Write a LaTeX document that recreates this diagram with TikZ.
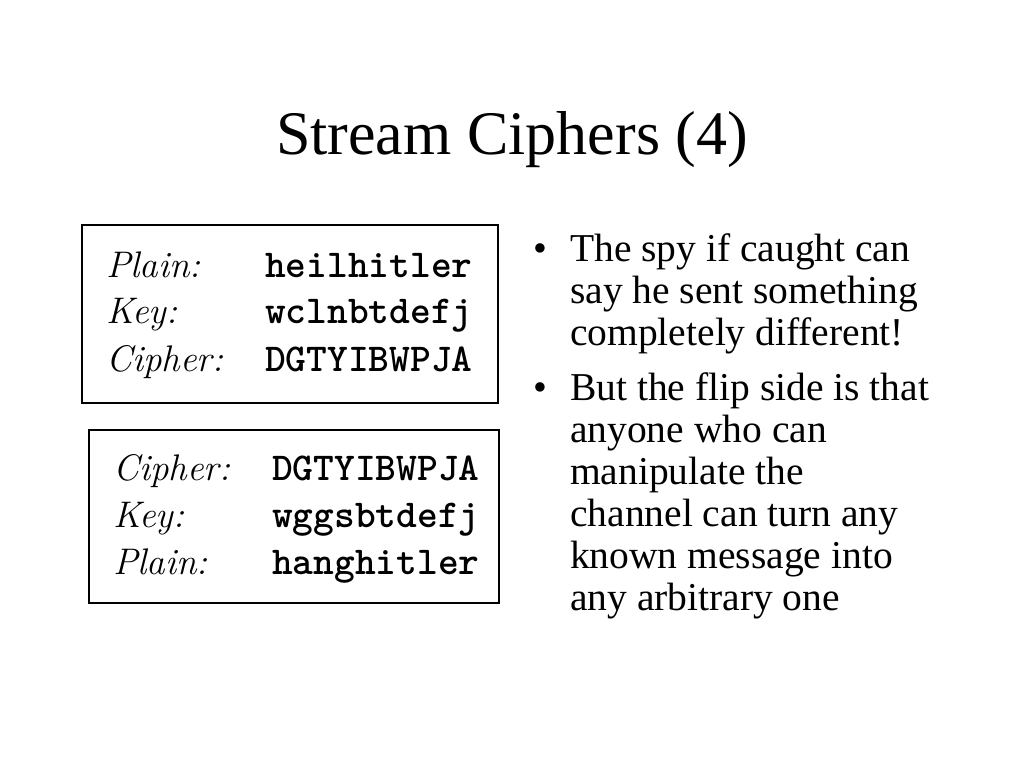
\documentclass[tikz,border=0pt]{standalone}
\usepackage{fontspec}
\newfontfamily\timesf{Liberation Serif}
\begin{document}
\begin{tikzpicture}[x=1pt,y=-1pt,
  lbl/.style={anchor=base west,inner sep=0pt,font=\fontsize{37}{40}\selectfont\itshape},
  code/.style={anchor=base west,inner sep=0pt,font=\fontsize{39.5}{40}\selectfont\ttfamily\bfseries},
  frame/.style={draw=black,line width=2.5pt},
  bline/.style={anchor=base west,inner sep=0pt,font=\fontsize{39.5}{42.5}\selectfont\timesf},
  dot/.style={anchor=base west,inner sep=0pt,font=\fontsize{39.5}{42.5}\selectfont\timesf}]
\useasboundingbox[fill=white] (0,0) rectangle (1024,768);
\node[anchor=base,inner sep=0pt,font=\fontsize{62}{70}\selectfont\timesf] (title) at (512,154) {Stream Ciphers (4)};
% box 1
\draw[frame] (82,225) rectangle (498,403);
\node[lbl] (p1) at (106,277) {Plain:};
\node[lbl] (k1) at (106,323) {Key:};
\node[lbl] (c1) at (106,371) {Cipher:};
\node[code] (pv1) at (265,277) {heilhitler};
\node[code] (kv1) at (265,323) {wclnbtdefj};
\node[code] (cv1) at (265,371) {DGTYIBWPJA};
% box 2
\draw[frame] (89,430) rectangle (499,603);
\node[lbl] (c2) at (113,480) {Cipher:};
\node[lbl] (k2) at (113,527) {Key:};
\node[lbl] (p2) at (113,574) {Plain:};
\node[code] (cv2) at (272,480) {DGTYIBWPJA};
\node[code] (kv2) at (272,527) {wggsbtdefj};
\node[code] (pv2) at (272,574) {hanghitler};
% bullets
\node[dot] (d1) at (533,261) {•};
\node[bline] (l1) at (570,261) {The spy if caught can};
\node[bline] (l2) at (570,303) {say he sent something};
\node[bline] (l3) at (570,345) {completely different!};
\node[dot] (d2) at (533,400) {•};
\node[bline] (l4) at (570,400) {But the flip side is that};
\node[bline] (l5) at (570,442) {anyone who can};
\node[bline] (l6) at (570,484) {manipulate the};
\node[bline] (l7) at (570,526) {channel can turn any};
\node[bline] (l8) at (570,568) {known message into};
\node[bline] (l9) at (570,610) {any arbitrary one};
\end{tikzpicture}
\end{document}
